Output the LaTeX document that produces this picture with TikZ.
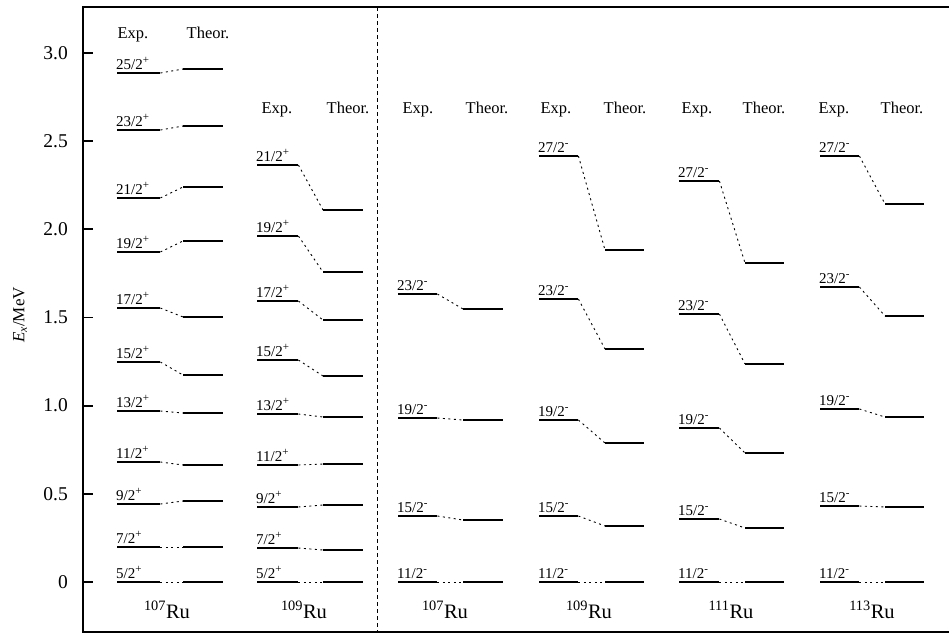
\documentclass[tikz,border=0pt]{standalone}
\usepackage{fontspec}
\setmainfont{Liberation Serif}
\newcommand\rucol[6]{%
  \foreach \n/\s/\ye/\yt in {#6}{
    \node[lvl, minimum width={#3-#2}] (E#1-\n) at (#2,\ye) {};
    \node[lvl, minimum width={#5-#4}] (T#1-\n) at (#4,\yt) {};
    \node[lvlab] (L#1-\n) at (#2-1,\ye-4) {\n/2\raisebox{0.8ex}{\fontsize{11}{12}\selectfont\s}};
    \draw[conn] (E#1-\n.east) -- (T#1-\n.west);
  }%
}
\begin{document}
\begin{tikzpicture}[x=1pt,y=-1pt,
  lvl/.style={fill=black, inner sep=0pt, minimum height=2.8pt, anchor=west, draw=none},
  lvlab/.style={font=\fontsize{15}{16}\selectfont, inner sep=0pt, anchor=base west},
  conn/.style={line width=0.9pt, dash pattern=on 2pt off 3.5pt},
  head/.style={font=\fontsize{16.5}{18}\selectfont, inner sep=0pt, anchor=base},
  iso/.style={font=\fontsize{20.5}{22}\selectfont, inner sep=0pt, anchor=base},
  ticklab/.style={font=\fontsize{19.5}{22}\selectfont, inner sep=0pt, anchor=east},
  frame/.style={line width=1.8pt},
]
\useasboundingbox (0,0) rectangle (949,635);
% frame
\coordinate (TL) at (83,7); \coordinate (BL) at (83,632);
\coordinate (TR) at (949,7); \coordinate (BR) at (949,632);
\draw[frame] (TR) -- (TL) -- (BL) -- (BR);
% separator
\coordinate (DT) at (377,7); \coordinate (DB) at (377,632);
\draw[line width=1pt, dash pattern=on 4pt off 3pt] (DT) -- (DB);
% ticks
\foreach \lab [count=\i from 0] in {0,0.5,1.0,1.5,2.0,2.5,3.0}{
  \pgfmathsetmacro\yy{582-88.2*\i}
  \coordinate (tka\i) at (83,\yy); \coordinate (tkb\i) at (93,\yy);
  \draw[frame] (tka\i) -- (tkb\i);
  \node[ticklab] (tl\i) at (68,\yy) {\lab};
}
\node[rotate=90, font=\fontsize{17}{19}\selectfont, inner sep=0pt] (ylab) at (20,315) {\textit{E}\textsubscript{\textit{x}}/MeV};
% headers
\foreach \xe/\xt/\yh [count=\i] in {133/208/38, 277/348/113, 418/487/113, 556/625/113, 697/764/113, 834/902/113}{
  \node[head] (he\i) at (\xe,\yh) {Exp.};
  \node[head] (ht\i) at (\xt,\yh) {Theor.};
}
% isotope labels
\node[iso] (iso1) at (167,618) {\textsuperscript{107}Ru};
\node[iso] (iso2) at (304,618) {\textsuperscript{109}Ru};
\node[iso] (iso3) at (445,618) {\textsuperscript{107}Ru};
\node[iso] (iso4) at (589,618) {\textsuperscript{109}Ru};
\node[iso] (iso5) at (731,618) {\textsuperscript{111}Ru};
\node[iso] (iso6) at (872,618) {\textsuperscript{113}Ru};
% levels
\rucol{1}{117}{160}{183}{223}{25/+/73/69, 23/+/130/126, 21/+/198/187, 19/+/252/241, 17/+/308/317, 15/+/362/375, 13/+/411/413, 11/+/462/465, 9/+/504/501, 7/+/547/547, 5/+/582/582}
\rucol{2}{257}{298}{323}{363}{21/+/165/210, 19/+/236/272, 17/+/301/320, 15/+/360/376, 13/+/414/417, 11/+/465/464, 9/+/507/505, 7/+/548/550, 5/+/582/582}
\rucol{3}{398}{437}{463}{503}{23/-/294/309, 19/-/418/420, 15/-/516/520, 11/-/582/582}
\rucol{4}{539}{578}{605}{644}{27/-/156/250, 23/-/299/349, 19/-/420/443, 15/-/516/526, 11/-/582/582}
\rucol{5}{679}{719}{745}{784}{27/-/181/263, 23/-/314/364, 19/-/428/453, 15/-/519/528, 11/-/582/582}
\rucol{6}{820}{859}{885}{924}{27/-/156/204, 23/-/287/316, 19/-/409/417, 15/-/506/507, 11/-/582/582}
\end{tikzpicture}
\end{document}
